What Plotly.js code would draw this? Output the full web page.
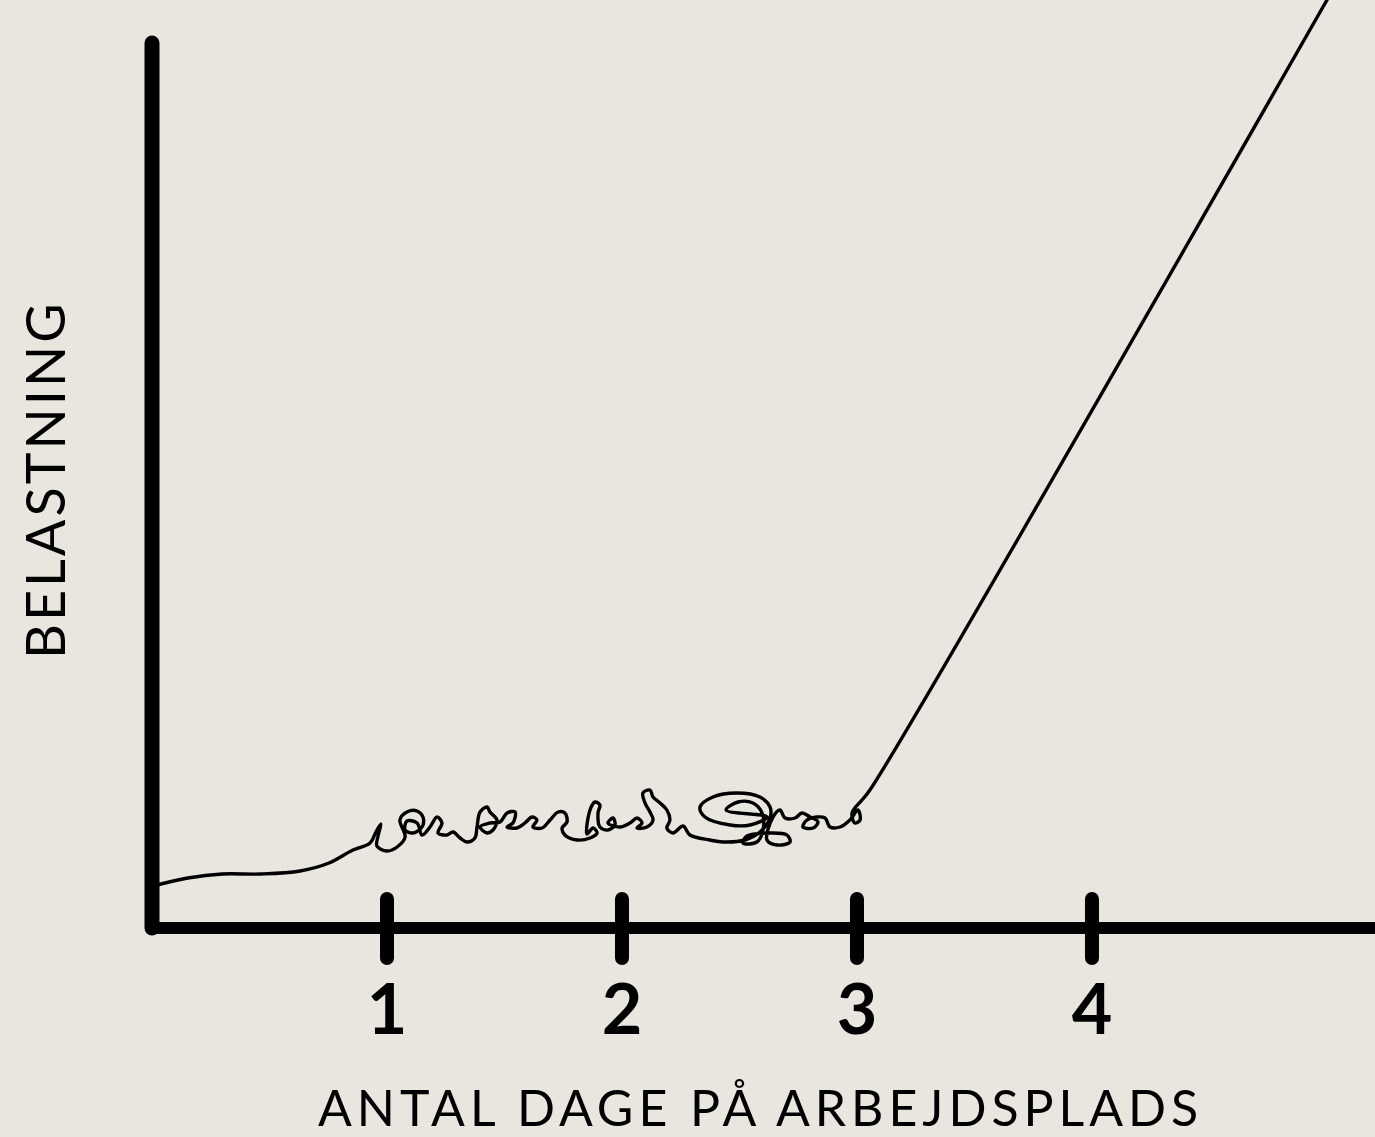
<!DOCTYPE html>
<html><head><meta charset="utf-8">
<script src="https://cdn.plot.ly/plotly-3.0.1.min.js"></script>
<style>
html,body{margin:0;padding:0;background:#E9E6DF;}
#chart{width:1375px;height:1137px;}
.scatterlayer .js-line{stroke-linecap:round;stroke-linejoin:round;}
.annotation[data-index="0"] text{letter-spacing:5px;}
.annotation[data-index="1"] text{letter-spacing:3px;}
</style></head><body><div id="chart"></div>
<script>
// Belastning (load) over days at the workplace
const days = [0.004,0.153,0.298,0.464,0.630,0.753,0.855,0.928,
0.953,0.974,0.962,0.957,1.000,1.043,1.077,
1.055,1.085,1.128,1.153,1.149,1.111,1.077,1.085,1.128,1.149,1.183,1.213,1.234,1.217,1.255,1.281,1.311,1.340,1.374,1.383,1.396,1.426,
1.438,1.468,1.451,1.426,1.396,1.438,1.481,1.511,1.545,1.536,1.511,1.553,1.587,1.617,1.638,1.621,1.660,1.694,1.728,1.757,1.766,1.745,1.757,1.809,1.864,1.894,1.877,1.851,
1.864,1.885,1.906,1.898,1.906,1.940,1.970,1.962,1.940,1.991,2.034,2.064,2.085,2.064,2.106,2.132,2.119,2.098,2.089,2.119,2.132,2.162,2.191,2.204,2.191,2.217,
2.260,2.289,2.374,2.430,2.523,2.587,2.630,2.630,2.587,2.489,2.387,2.332,2.353,2.460,2.545,2.617,
2.443,2.494,2.557,2.596,2.600,2.574,2.515,2.532,2.630,2.702,2.715,2.660,2.617,2.643,2.672,2.694,2.736,2.766,2.800,2.834,2.813,2.770,2.787,2.830,2.864,2.885,2.928,2.970,3.004,3.013,2.991,2.979,3.021,3.055,
5.000];
const load = [42,50,54,54,57,65,78,85,
96,104,92,82,77,81,91,
108,116,117,111,101,95,98,107,105,93,101,111,105,95,93,96,90,86,90,101,116,121,
116,108,98,95,101,105,106,115,116,105,101,100,105,111,108,101,100,108,116,115,106,100,93,88,90,95,100,94,
118,126,123,115,101,98,103,110,105,101,105,110,105,100,101,108,116,125,135,138,131,125,118,108,100,95,
102,93,88,86,88,96,110,121,131,135,131,121,111,103,103,111,
118,126,125,115,98,86,85,92,95,93,86,83,88,111,118,110,110,115,111,106,100,101,108,111,110,101,101,108,118,108,105,115,128,138,
928];
const tickDays = [1,2,3,4];
const tickLabels = ['1','2','3','4'];
const xTitle = 'ANTAL DAGE PÅ ARBEJDSPLADS';
const yTitle = 'BELASTNING';

const bg = '#E9E6DF';
const xRange = [-0.6468, 5.2043];
const yRange = [-209, 928];
const yAxisTop = 885, xAxisEnd = 5.4, tickUp = 29, tickDown = -30;

const tickX = [], tickY = [];
tickDays.forEach(d => { tickX.push(d, d, null); tickY.push(tickUp, tickDown, null); });

const traces = [
  {x:days, y:load, type:'scatter', mode:'lines', line:{color:'#000', width:3.4, shape:'spline', smoothing:1}, hoverinfo:'skip'},
  {x:[0,0], y:[yAxisTop,0], type:'scatter', mode:'lines', line:{color:'#000', width:15}, hoverinfo:'skip'},
  {x:[0,xAxisEnd], y:[0,0], type:'scatter', mode:'lines', line:{color:'#000', width:12}, hoverinfo:'skip'},
  {x:tickX, y:tickY, type:'scatter', mode:'lines', line:{color:'#000', width:14}, hoverinfo:'skip', connectgaps:false}
];

const layout = {
  width:1375, height:1137, margin:{l:0,r:0,t:0,b:0},
  paper_bgcolor:bg, plot_bgcolor:bg, showlegend:false,
  xaxis:{range:xRange, showgrid:false, zeroline:false, showline:false, tickvals:tickDays, ticktext:tickLabels,
         ticks:'', anchor:'free', position:0.153, tickfont:{family:'Lato', size:70, color:'#000', weight:'bold'}, fixedrange:true},
  yaxis:{range:yRange, showgrid:false, zeroline:false, showline:false, showticklabels:false, fixedrange:true},
  annotations:[
    {xref:'paper', yref:'paper', x:760/1375, y:(1137-1107)/1137, xanchor:'center', yanchor:'middle', showarrow:false,
     text:xTitle, font:{family:'Lato', size:50, color:'#000'}},
    {xref:'paper', yref:'paper', x:45/1375, y:(1137-480)/1137, xanchor:'center', yanchor:'middle', showarrow:false, textangle:-90,
     text:yTitle, font:{family:'Lato', size:54, color:'#000'}}
  ]
};
Plotly.newPlot('chart', traces, layout, {staticPlot:true, displayModeBar:false});
</script></body></html>
